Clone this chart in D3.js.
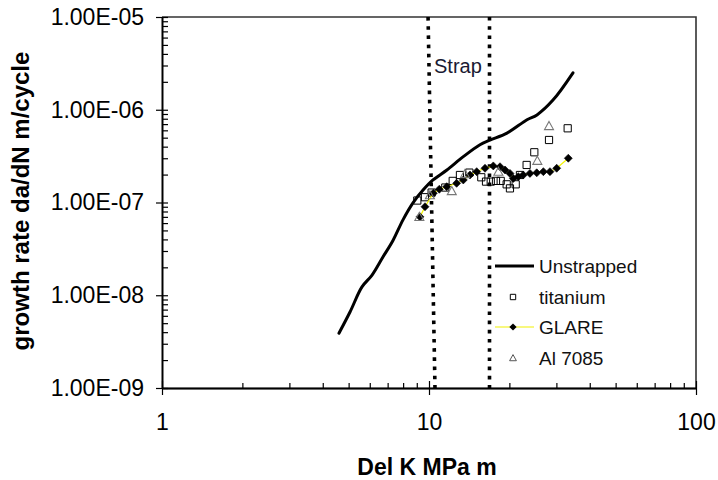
<!DOCTYPE html>
<html><head><meta charset="utf-8">
<script src="https://cdn.jsdelivr.net/npm/d3@7"></script>
<style>body{margin:0;background:#fff}svg{display:block}</style>
</head><body>
<svg id="c" width="718" height="480"></svg>
<script>
// ---- data ----
const unstrappedX = [4.60,5.06,5.61,6.12,6.73,7.33,7.99,8.71,9.50,10.35,11.67,13.40,15.52,16.91,19.59,23.28,25.37,29.13,34.61];
const unstrappedY = [3.9e-9,6.6e-9,1.23e-8,1.65e-8,2.6e-8,3.9e-8,6.5e-8,9.9e-8,1.36e-7,1.75e-7,2.24e-7,3.1e-7,4.2e-7,4.7e-7,5.6e-7,7.8e-7,8.8e-7,1.27e-6,2.5e-6];

const titaniumX = [9.04,9.66,10.23,11.51,12.27,13.06,14.16,15.70,16.35,17.03,17.82,18.56,19.54,20.10,21.12,21.91,23.21,24.80,28.15,33.07];
const titaniumY = [1.05e-7,1.14e-7,1.28e-7,1.45e-7,1.71e-7,1.98e-7,2.10e-7,1.87e-7,1.68e-7,1.68e-7,1.71e-7,1.71e-7,1.57e-7,1.42e-7,1.57e-7,1.98e-7,2.54e-7,3.48e-7,4.72e-7,6.31e-7];

const glareX = [9.25,9.66,10.38,10.93,11.65,12.69,13.44,14.24,15.09,16.21,17.41,18.45,19.27,20.10,20.69,21.60,22.54,23.88,25.32,26.81,28.38,30.07,33.24];
const glareY = [7.0e-8,9.0e-8,1.26e-7,1.39e-7,1.48e-7,1.61e-7,1.75e-7,1.98e-7,2.15e-7,2.34e-7,2.48e-7,2.43e-7,2.24e-7,2.06e-7,1.82e-7,1.90e-7,1.98e-7,2.06e-7,2.09e-7,2.15e-7,2.15e-7,2.34e-7,3.0e-7];

const alX = [9.20,10.08,12.17,13.64,18.19,25.45,28.15];
const alY = [7.0e-8,1.20e-7,1.33e-7,2.03e-7,2.15e-7,2.82e-7,6.68e-7];

const strap1X = [9.92,10.53];
const strap2X = [16.85,16.85];
const strapY = [1e-5,1e-9];

const xTickValues = [1,10,100];
const xTickLabels = ["1","10","100"];
const yTickValues = [1e-9,1e-8,1e-7,1e-6,1e-5];
const yTickLabels = ["1.00E-09","1.00E-08","1.00E-07","1.00E-06","1.00E-05"];
const seriesNames = ["Unstrapped","titanium","GLARE","Al 7085"];

// ---- chart ----
const FONT = "'Liberation Sans', Arial, sans-serif";
const svg = d3.select("#c");
const x = d3.scaleLog().domain([1,100]).range([162,696]);
const y = d3.scaleLog().domain([1e-9,1e-5]).range([388,17]);
const zip = (a,b)=>a.map((v,i)=>[v,b[i]]);

// frame (top/right)
svg.append("path").attr("d",`M${x(1)},${y(1e-5)}H${x(100)}V${y(1e-9)}`)
  .attr("fill","none").attr("stroke","#333").attr("stroke-width",1.6);

const minorX = [];
[1,10].forEach(b=>{for(let k=2;k<=9;k++) minorX.push(b*k);});
const minorY = [];
[1e-9,1e-8,1e-7,1e-6].forEach(b=>{for(let k=2;k<=9;k++) minorY.push(b*k);});

function styleAxis(g){
  g.select(".domain").attr("stroke","#000").attr("stroke-width",1.4);
  g.selectAll(".tick line").attr("stroke","#000").attr("stroke-width",1.2);
}
// x axis
const gx = svg.append("g").attr("transform",`translate(0,${y(1e-9)})`);
gx.append("g").call(d3.axisBottom(x).tickValues(minorX).tickSize(-5).tickSizeOuter(0).tickFormat("")).call(styleAxis);
gx.append("g").call(d3.axisBottom(x).tickValues(xTickValues).tickSize(-7).tickSizeOuter(0).tickFormat("")).call(styleAxis);
const gxl = gx.append("g").call(d3.axisBottom(x).tickValues(xTickValues).tickSize(7).tickSizeOuter(0).tickPadding(19)
  .tickFormat((d,i)=>xTickLabels[i])).call(styleAxis);
gxl.selectAll("text").attr("font-family",FONT).attr("font-size",23).attr("fill","#000");

// y axis
const gy = svg.append("g").attr("transform",`translate(${x(1)},0)`);
gy.append("g").call(d3.axisLeft(y).tickValues(minorY).tickSize(-6).tickSizeOuter(0).tickFormat("")).call(styleAxis);
gy.append("g").call(d3.axisLeft(y).tickValues(yTickValues).tickSize(-6).tickSizeOuter(0).tickFormat("")).call(styleAxis);
const gyl = gy.append("g").call(d3.axisLeft(y).tickValues(yTickValues).tickSize(6).tickSizeOuter(0).tickPadding(12)
  .tickFormat((d,i)=>yTickLabels[i])).call(styleAxis);
gyl.selectAll("text").attr("font-family",FONT).attr("font-size",23).attr("fill","#000");

// axis titles
svg.append("text").attr("x",427).attr("y",475).attr("text-anchor","middle")
  .attr("font-family",FONT).attr("font-weight","bold").attr("font-size",23).text("Del K MPa m");
svg.append("text").attr("transform","translate(29,201) rotate(-90)").attr("text-anchor","middle")
  .attr("font-family",FONT).attr("font-weight","bold").attr("font-size",24).text("growth rate da/dN m/cycle");

// strap dotted lines
const line = d3.line().x(d=>x(d[0])).y(d=>y(d[1]));
[strap1X,strap2X].forEach(sx=>{
  svg.append("path").attr("d",line(zip(sx,strapY))).attr("fill","none")
    .attr("stroke","#000").attr("stroke-width",3.6).attr("stroke-dasharray","3.6,5.6");
});
svg.append("text").attr("x",434).attr("y",73).attr("font-family",FONT).attr("font-size",20)
  .attr("fill","#1a1a33").text("Strap");

// unstrapped
svg.append("path").attr("d",d3.line().x(d=>x(d[0])).y(d=>y(d[1])).curve(d3.curveCatmullRom)(zip(unstrappedX,unstrappedY)))
  .attr("fill","none").attr("stroke","#000").attr("stroke-width",3).attr("stroke-linejoin","round").attr("stroke-linecap","round");

// marker shapes
const sq = s=>`M${-s},${-s}H${s}V${s}H${-s}Z`;
const dia = s=>`M0,${-s}L${s},0L0,${s}L${-s},0Z`;
const tri = s=>`M0,${-s}L${s},${s*0.8}H${-s}Z`;

// titanium
svg.append("g").selectAll("path").data(zip(titaniumX,titaniumY)).join("path")
  .attr("transform",d=>`translate(${x(d[0])},${y(d[1])})`).attr("d",sq(3.6))
  .attr("fill","none").attr("stroke","#000").attr("stroke-width",1);

// glare
svg.append("path").attr("d",line(zip(glareX,glareY))).attr("fill","none").attr("stroke","#f2f200").attr("stroke-width",1.2);
svg.append("g").selectAll("path").data(zip(glareX,glareY)).join("path")
  .attr("transform",d=>`translate(${x(d[0])},${y(d[1])})`).attr("d",dia(4))
  .attr("fill","#000").attr("stroke","#000").attr("stroke-width",0.6);

// Al 7085
svg.append("g").selectAll("path").data(zip(alX,alY)).join("path")
  .attr("transform",d=>`translate(${x(d[0])},${y(d[1])})`).attr("d",tri(4.5))
  .attr("fill","none").attr("stroke","#777").attr("stroke-width",1.1);

// legend
const lg = svg.append("g").attr("font-family",FONT).attr("font-size",19);
const rows = [266,297,327,358];
lg.append("rect").attr("x",492).attr("y",250).attr("width",150).attr("height",122).attr("fill","#fff");
lg.append("line").attr("x1",495).attr("x2",534).attr("y1",rows[0]).attr("y2",rows[0]).attr("stroke","#000").attr("stroke-width",3);
lg.append("path").attr("transform",`translate(513,${rows[1]})`).attr("d",sq(2.7)).attr("fill","#fff").attr("stroke","#000").attr("stroke-width",1);
lg.append("line").attr("x1",495).attr("x2",534).attr("y1",rows[2]).attr("y2",rows[2]).attr("stroke","#f2f200").attr("stroke-width",1.2);
lg.append("path").attr("transform",`translate(513,${rows[2]})`).attr("d",dia(3.6)).attr("fill","#000");
lg.append("path").attr("transform",`translate(513,${rows[3]})`).attr("d",tri(3.4)).attr("fill","none").attr("stroke","#555").attr("stroke-width",1);
lg.selectAll("text.l").data(seriesNames).join("text").attr("class","l")
  .attr("x",539).attr("y",(d,i)=>rows[i]).attr("dy","0.36em").attr("fill","#111").text(d=>d);
</script>
</body></html>
